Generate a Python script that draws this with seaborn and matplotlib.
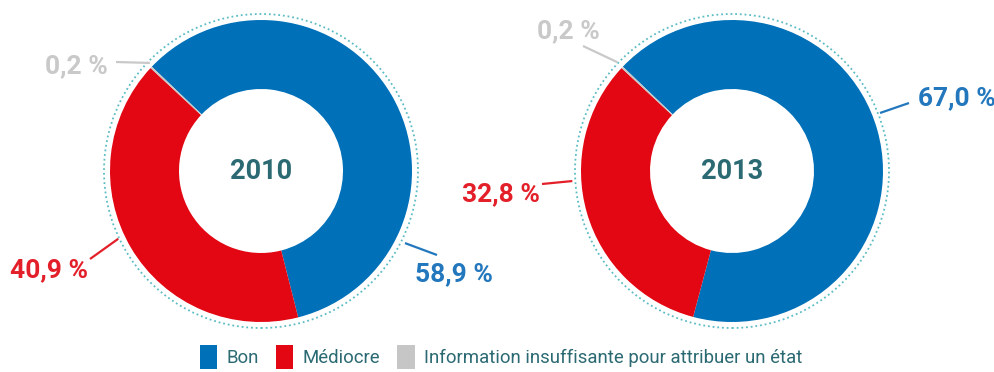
import numpy as np
import matplotlib
matplotlib.use("Agg")
import matplotlib.pyplot as plt
from matplotlib.patches import Circle, Patch
import seaborn as sns

# Data
categories = ["Bon", "Médiocre", "Information insuffisante pour attribuer un état"]
years = ["2010", "2013"]
values_2010 = [58.9, 40.9, 0.2]
values_2013 = [67.0, 32.8, 0.2]
value_labels_2010 = ["58,9 %", "40,9 %", "0,2 %"]
value_labels_2013 = ["67,0 %", "32,8 %", "0,2 %"]

sns.set_theme(style="white")
plt.rcParams["font.family"] = ["Roboto", "DejaVu Sans"]

slice_colors = sns.color_palette(["#0070B8", "#E30613", "#C6C6C6"])
text_colors = ["#2277BD", "#E3202A", "#C9C9C9"]
year_color = "#2B6A73"
ring_color = "#5BBCC4"

W, H = 995, 372
fig = plt.figure(figsize=(W / 100, H / 100), dpi=100)
ax = fig.add_axes([0, 0, 1, 1])

R_OUT, WIDTH, R_RING = 151, 69, 157
# donut centres in pixels from the top-left corner
centers_px = [(261, 171), (732, 171)]

# Per label: anchor angle / radius on the ring, leader end and text anchor
# as pixel offsets from the donut centre (x right, y down)
label_layout = [
    [  # 2010: Bon, Médiocre, Info
        dict(ang=-26.6, r=161, end=(176, 84), txt=(154, 101), ha="left"),
        dict(ang=205.4, r=158, end=(-171, 88), txt=(-173, 97), ha="right"),
        dict(ang=135.8, r=155, end=(-145, -109), txt=(-153, -107), ha="right"),
    ],
    [  # 2013
        dict(ang=21.4, r=159, end=(177, -68), txt=(186, -75), ha="left"),
        dict(ang=183.6, r=160, end=(-190, 13), txt=(-192, 21), ha="right"),
        dict(ang=136.5, r=158, end=(-149, -125), txt=(-195, -142), ha="left"),
    ],
]

for (px, py), year, vals, labs, layout in zip(
    centers_px, years, [values_2010, values_2013],
    [value_labels_2010, value_labels_2013], label_layout,
):
    cx, cy = px, H - py
    ax.pie(
        vals, colors=slice_colors, startangle=136.3, counterclock=False,
        center=(cx, cy), radius=R_OUT, frame=True,
        wedgeprops=dict(width=WIDTH, edgecolor="none", linewidth=0),
    )
    ax.add_patch(Circle((cx, cy), R_RING, fill=False, edgecolor=ring_color,
                        linestyle=(0, (1, 1.6)), linewidth=1.3))
    ax.text(cx, cy - 1, year, ha="center", va="center", fontsize=19.5,
            fontweight="bold", color=year_color)
    for lab, spec, col in zip(labs, layout, text_colors):
        a = np.deg2rad(spec["ang"])
        x0 = cx + spec["r"] * np.cos(a)
        y0 = cy + spec["r"] * np.sin(a)
        x1, y1 = cx + spec["end"][0], cy - spec["end"][1]
        ax.plot([x0, x1], [y0, y1], color=col, lw=1.6, solid_capstyle="butt")
        ax.text(cx + spec["txt"][0], cy - spec["txt"][1], lab,
                ha=spec["ha"], va="center_baseline", fontsize=19,
                fontweight="bold", color=col)

ax.set_xlim(0, W)
ax.set_ylim(0, H)
ax.set_aspect("equal")
ax.axis("off")

handles = [Patch(facecolor=c, edgecolor="none") for c in slice_colors]
leg = fig.legend(
    handles, categories, loc="center", bbox_to_anchor=(501 / W, 1 - 357 / H),
    ncol=3, frameon=False, fontsize=13.4, handlelength=0.95, handleheight=1.6,
    handletextpad=0.5, columnspacing=0.9,
)
for t in leg.get_texts():
    t.set_color(year_color)

fig.savefig("out.png", dpi=100, facecolor="white")
